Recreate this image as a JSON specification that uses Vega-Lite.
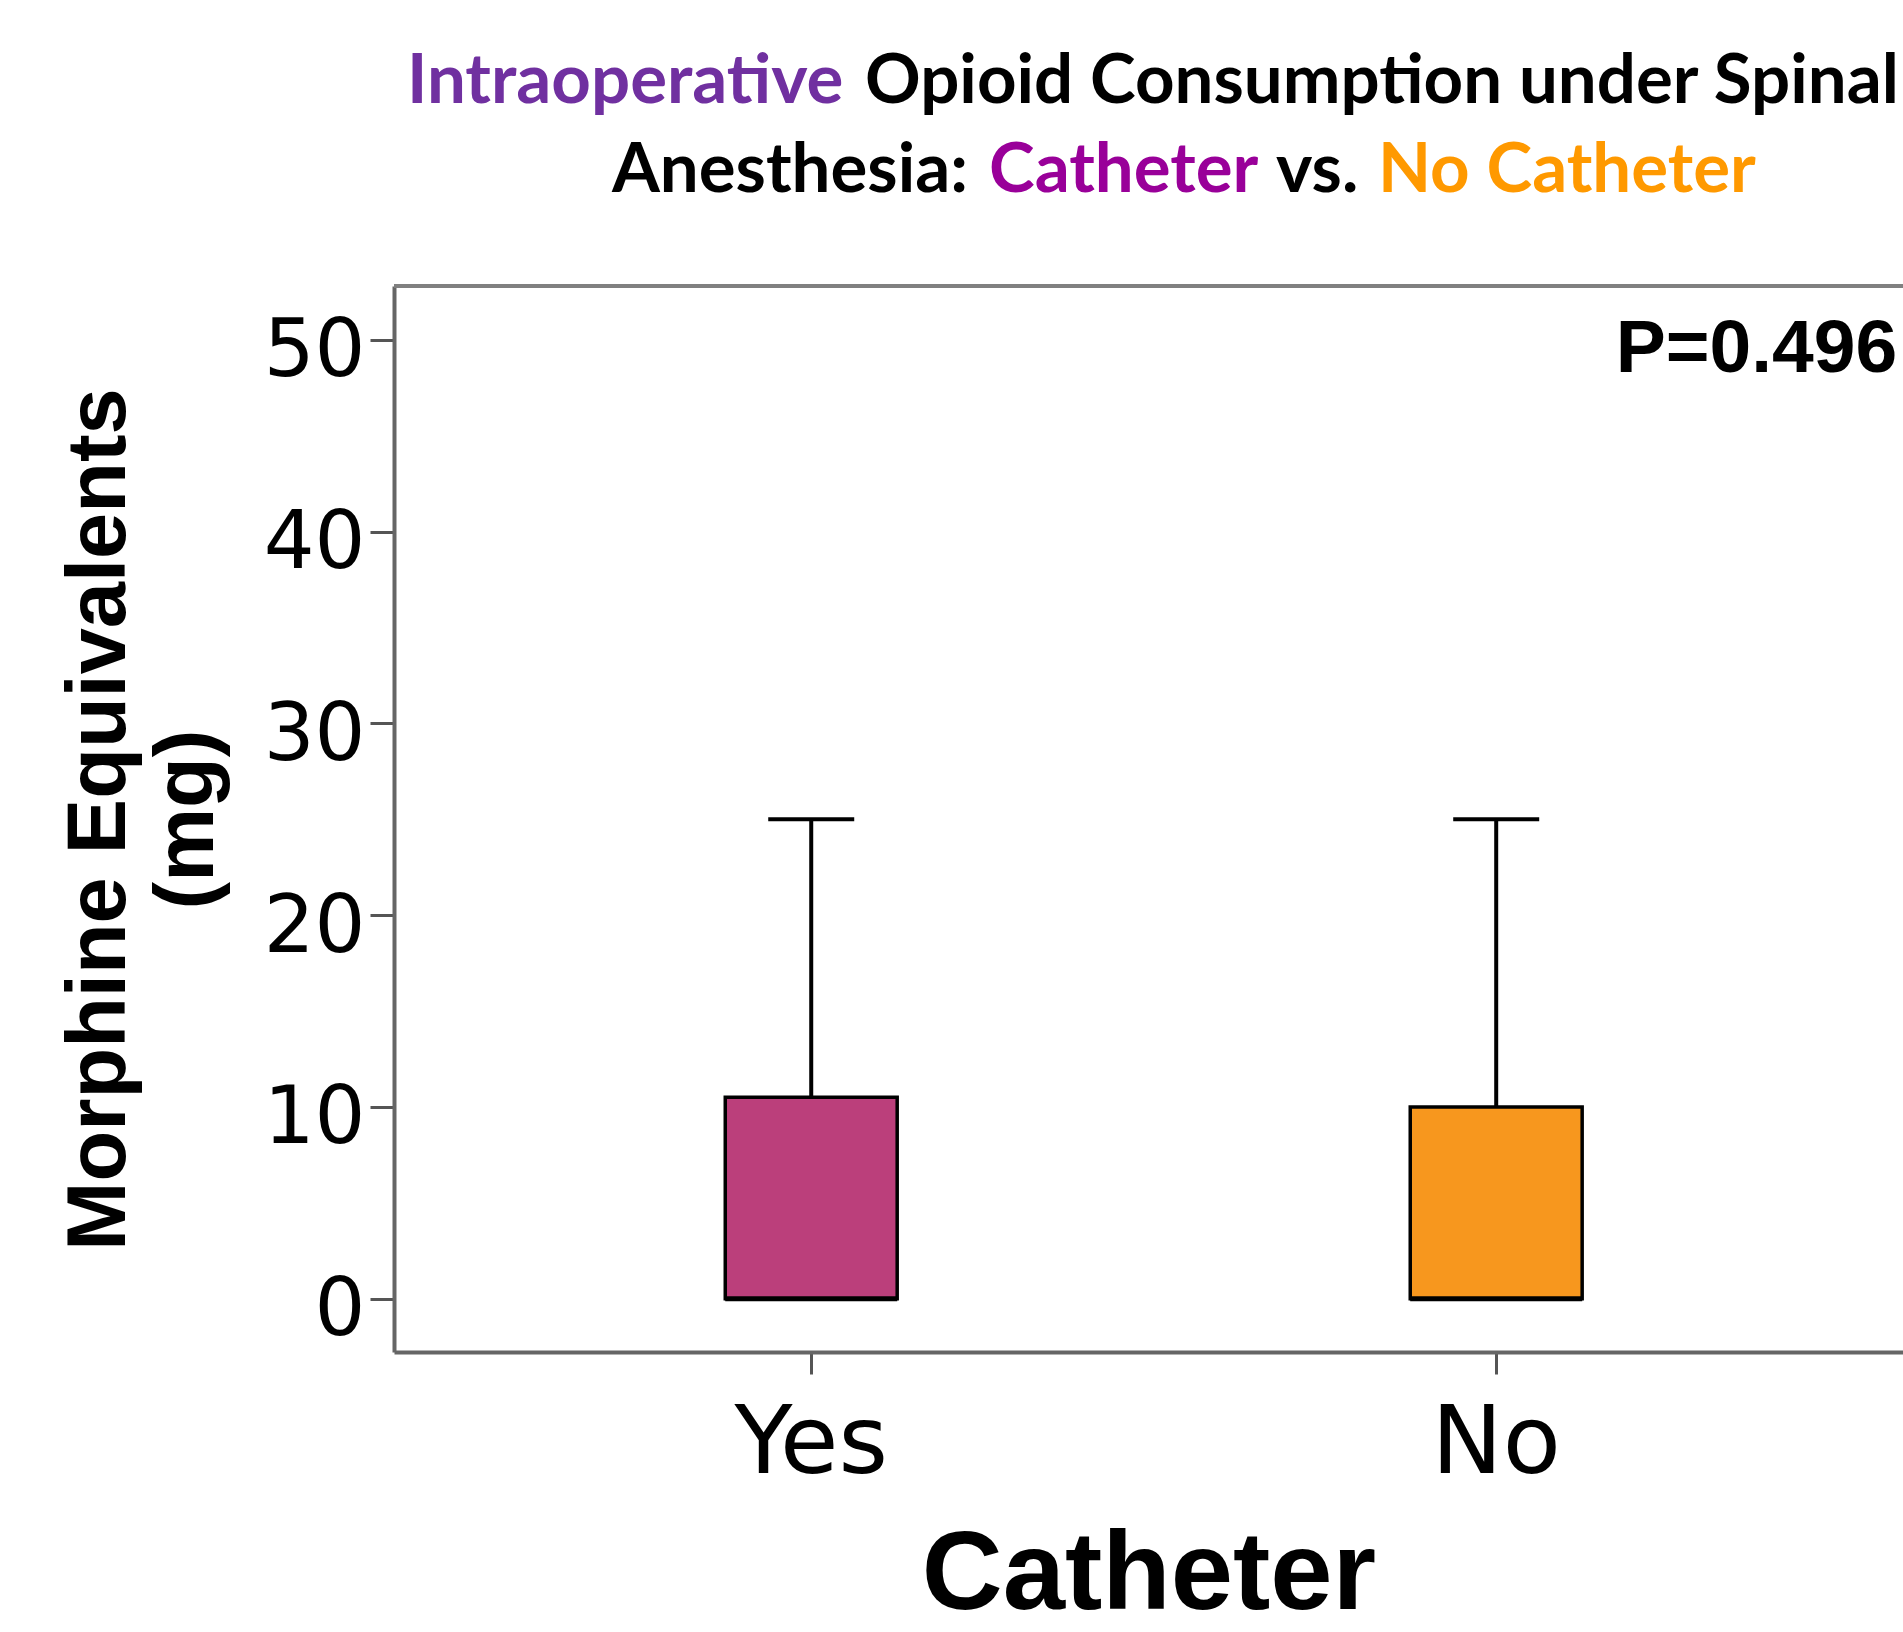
{
  "$schema": "https://vega.github.io/schema/vega-lite/v6.json",
  "autosize": {"type": "none"},
  "padding": {"left": 394, "top": 286, "right": 0, "bottom": 280},
  "width": 1509,
  "height": 1066,
  "background": "white",
  "config": {"view": {"stroke": null}},
  "data": {"values": [
    {"catheter": "Yes", "min": 0, "q1": 0, "median": 0, "q3": 10.5, "max": 25},
    {"catheter": "No", "min": 0, "q1": 0, "median": 0, "q3": 10, "max": 25}
  ]},
  "layer": [
    {
      "mark": {"type": "rule", "color": "black", "strokeWidth": 4},
      "encoding": {
        "x": {"field": "catheter", "type": "nominal", "sort": ["Yes", "No"]},
        "y": {"field": "q3", "type": "quantitative"},
        "y2": {"field": "max"}
      }
    },
    {
      "mark": {"type": "bar", "stroke": "black", "strokeWidth": 3.5, "opacity": 1},
      "encoding": {
        "x": {
          "field": "catheter", "type": "nominal", "sort": ["Yes", "No"],
          "scale": {"type": "band", "paddingInner": 0.749, "paddingOuter": 0.476, "align": 0.508},
          "axis": {
            "title": "Catheter", "labelAngle": 0, "labelAlign": "center", "labelBaseline": "top",
            "labelFont": "DejaVu Sans", "labelFontSize": 95, "labelColor": "black", "labelPadding": 23,
            "tickSize": 22, "tickWidth": 3, "tickColor": "#555555",
            "domainColor": "#666666", "domainWidth": 4,
            "titleFont": "Liberation Sans", "titleFontSize": 112, "titleFontWeight": "bold", "titleColor": "black", "titlePadding": 29
          }
        },
        "y": {
          "field": "q1", "type": "quantitative",
          "scale": {"domain": [-2.78, 52.81], "nice": false, "zero": false},
          "axis": {
            "title": ["Morphine Equivalents", "(mg)"],
            "values": [0, 10, 20, 30, 40, 50], "grid": false,
            "labelFont": "DejaVu Sans", "labelFontSize": 80, "labelColor": "black", "labelPadding": 5, "labelOffset": 12,
            "tickSize": 24, "tickWidth": 3, "tickColor": "#555555",
            "domainColor": "#666666", "domainWidth": 4,
            "titleFont": "Liberation Sans", "titleFontSize": 83, "titleFontWeight": "bold", "titleColor": "black",
            "titleLineHeight": 88, "titlePadding": 34
          }
        },
        "y2": {"field": "q3"},
        "color": {
          "field": "catheter", "type": "nominal",
          "scale": {"domain": ["Yes", "No"], "range": ["#bb3f7b", "#f7971e"]},
          "legend": null
        }
      }
    },
    {
      "mark": {"type": "tick", "orient": "horizontal", "color": "black", "size": 86, "thickness": 4, "opacity": 1},
      "encoding": {
        "x": {"field": "catheter", "type": "nominal", "sort": ["Yes", "No"]},
        "y": {"field": "max", "type": "quantitative"}
      }
    },
    {
      "mark": {"type": "tick", "orient": "horizontal", "color": "black", "size": 172, "thickness": 5, "opacity": 1},
      "encoding": {
        "x": {"field": "catheter", "type": "nominal", "sort": ["Yes", "No"]},
        "y": {"field": "median", "type": "quantitative"}
      }
    },
    {
      "data": {"values": [{"label": "P=0.496"}]},
      "mark": {"type": "text", "font": "Liberation Sans", "fontWeight": "bold", "fontSize": 75, "align": "right", "baseline": "middle", "dx": 401, "color": "black"},
      "encoding": {
        "x": {"datum": "No", "type": "nominal"},
        "y": {"datum": 49.5, "type": "quantitative"},
        "text": {"field": "label"}
      }
    },
    {
      "data": {"values": [{}]},
      "mark": {"type": "rule", "color": "#808080", "strokeWidth": 4},
      "encoding": {"y": {"datum": 52.81, "type": "quantitative"}}
    },
    {
      "data": {"values": [{"t": "Intraoperative"}]},
      "mark": {"type": "text", "font": "Lato", "fontWeight": "bold", "fontSize": 69, "align": "left", "baseline": "alphabetic", "color": "#7030a0"},
      "encoding": {"x": {"value": 13}, "y": {"value": -183}, "text": {"field": "t"}}
    },
    {
      "data": {"values": [{"t": "Opioid Consumption under Spinal"}]},
      "mark": {"type": "text", "font": "Lato", "fontWeight": "bold", "fontSize": 69, "align": "left", "baseline": "alphabetic", "color": "black"},
      "encoding": {"x": {"value": 471}, "y": {"value": -183}, "text": {"field": "t"}}
    },
    {
      "data": {"values": [{"t": "Anesthesia:"}]},
      "mark": {"type": "text", "font": "Lato", "fontWeight": "bold", "fontSize": 69, "align": "left", "baseline": "alphabetic", "color": "black"},
      "encoding": {"x": {"value": 218}, "y": {"value": -94}, "text": {"field": "t"}}
    },
    {
      "data": {"values": [{"t": "Catheter"}]},
      "mark": {"type": "text", "font": "Lato", "fontWeight": "bold", "fontSize": 69, "align": "left", "baseline": "alphabetic", "color": "#990099"},
      "encoding": {"x": {"value": 595}, "y": {"value": -94}, "text": {"field": "t"}}
    },
    {
      "data": {"values": [{"t": "vs."}]},
      "mark": {"type": "text", "font": "Lato", "fontWeight": "bold", "fontSize": 69, "align": "left", "baseline": "alphabetic", "color": "black"},
      "encoding": {"x": {"value": 882}, "y": {"value": -94}, "text": {"field": "t"}}
    },
    {
      "data": {"values": [{"t": "No Catheter"}]},
      "mark": {"type": "text", "font": "Lato", "fontWeight": "bold", "fontSize": 69, "align": "left", "baseline": "alphabetic", "color": "#ff9900"},
      "encoding": {"x": {"value": 984}, "y": {"value": -94}, "text": {"field": "t"}}
    }
  ]
}
